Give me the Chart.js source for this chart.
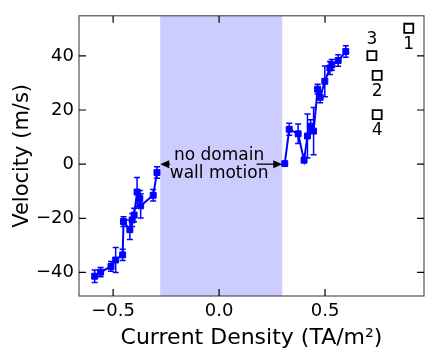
<!DOCTYPE html>
<html>
<head>
<meta charset="utf-8">
<script src="https://cdn.jsdelivr.net/npm/chart.js@4/dist/chart.umd.min.js"></script>
<style>
body { margin: 0; background: #fff; }
#wrap { width: 436px; height: 363px; }
</style>
</head>
<body>
<div id="wrap"><canvas id="myChart" width="436" height="363"></canvas></div>
<script>
// negative current branch
const negJ = [-0.587, -0.559, -0.510, -0.488, -0.455, -0.451, -0.421, -0.410, -0.401, -0.387, -0.374, -0.370, -0.311, -0.293];
const negV = [-41.4, -39.9, -37.8, -35.4, -33.5, -21.2, -24.2, -20.6, -18.8, -10.3, -12.7, -15.4, -11.5, -3.1];
const negErr = [2.3, 1.7, 1.8, 4.6, 2.1, 1.8, 3.6, 2.4, 2.5, 5.4, 3.0, 4.5, 2.1, 2.1];
// positive current branch
const posJ = [0.310, 0.331, 0.373, 0.401, 0.417, 0.432, 0.446, 0.465, 0.477, 0.499, 0.523, 0.532, 0.562, 0.598];
const posV = [0.2, 12.9, 11.2, 1.5, 10.4, 14.0, 12.2, 27.7, 24.7, 30.6, 35.5, 36.7, 38.3, 41.6];
const posErr = [0.5, 2.2, 3.6, 1.0, 8.1, 2.4, 8.7, 1.8, 2.0, 5.7, 2.4, 2.0, 2.1, 2.1];
// open squares
const sqLabels = ['1', '2', '3', '4'];
const sqJ = [0.895, 0.746, 0.721, 0.746];
const sqV = [50.2, 32.8, 40.1, 18.3];
const sqLabelSide = [1, 1, -1, 1]; // 1 = below, -1 = above
// shaded band and its text
const noMotion = [-0.278, 0.298];
const noMotionText = ['no domain', 'wall motion'];
const xTicks = [-0.5, 0.0, 0.5];
const yTicks = [-40, -20, 0, 20, 40];

const FONT = "'DejaVu Sans', sans-serif";
const minus = s => s.replace('-', '\u2212');

const decor = {
    id: 'decor',
    beforeDatasetsDraw(chart) {
        const {ctx, chartArea: a, scales: {x, y}} = chart;
        ctx.save();
        ctx.fillStyle = 'rgba(0,0,255,0.2)';
        const x0 = x.getPixelForValue(noMotion[0]), x1 = x.getPixelForValue(noMotion[1]);
        ctx.fillRect(x0, a.top, x1 - x0, a.bottom - a.top);
        // error bars
        ctx.strokeStyle = '#0000ff';
        ctx.lineWidth = 1.5;
        [[negJ, negV, negErr], [posJ, posV, posErr]].forEach(([js, vs, es]) => {
            js.forEach((j, i) => {
                const px = x.getPixelForValue(j);
                const lo = y.getPixelForValue(vs[i] - es[i]);
                const hi = y.getPixelForValue(vs[i] + es[i]);
                ctx.beginPath();
                ctx.moveTo(px, lo); ctx.lineTo(px, hi);
                ctx.moveTo(px - 3, lo); ctx.lineTo(px + 3, lo);
                ctx.moveTo(px - 3, hi); ctx.lineTo(px + 3, hi);
                ctx.stroke();
            });
        });
        ctx.restore();
    },
    afterDraw(chart) {
        const {ctx, chartArea: a, scales: {x, y}} = chart;
        ctx.save();
        // spines
        ctx.strokeStyle = '#444';
        ctx.lineWidth = 1.1;
        ctx.strokeRect(a.left, a.top, a.right - a.left, a.bottom - a.top);
        // inward ticks on all sides
        ctx.strokeStyle = '#000';
        ctx.lineWidth = 1.2;
        ctx.beginPath();
        xTicks.forEach(v => {
            const px = x.getPixelForValue(v);
            ctx.moveTo(px, a.bottom); ctx.lineTo(px, a.bottom - 7);
            ctx.moveTo(px, a.top); ctx.lineTo(px, a.top + 7);
        });
        yTicks.forEach(v => {
            const py = y.getPixelForValue(v);
            ctx.moveTo(a.left, py); ctx.lineTo(a.left + 7, py);
            ctx.moveTo(a.right, py); ctx.lineTo(a.right - 7, py);
        });
        ctx.stroke();

        // arrows + text
        const cx = x.getPixelForValue(0), cy = y.getPixelForValue(0);
        const arrow = (fromX, toX) => {
            const dir = Math.sign(toX - fromX);
            ctx.beginPath();
            ctx.moveTo(fromX, cy); ctx.lineTo(toX - dir * 8, cy);
            ctx.stroke();
            ctx.beginPath();
            ctx.moveTo(toX, cy);
            ctx.lineTo(toX - dir * 9, cy - 4);
            ctx.lineTo(toX - dir * 9, cy + 4);
            ctx.closePath();
            ctx.fill();
        };
        ctx.fillStyle = '#000';
        ctx.lineWidth = 1.3;
        arrow(x.getPixelForValue(-0.231), x.getPixelForValue(noMotion[0]));
        arrow(x.getPixelForValue(0.177), x.getPixelForValue(noMotion[1]));
        ctx.font = '17px ' + FONT;
        ctx.textAlign = 'center';
        ctx.textBaseline = 'alphabetic';
        ctx.fillText(noMotionText[0], cx, cy - 4.5);
        ctx.fillText(noMotionText[1], cx, cy + 14);

        // square labels
        ctx.textBaseline = 'middle';
        sqLabels.forEach((t, i) => {
            ctx.fillText(t, x.getPixelForValue(sqJ[i]), y.getPixelForValue(sqV[i]) + sqLabelSide[i] * 16);
        });
        ctx.restore();
    }
};

const ctx = document.getElementById('myChart');
new Chart(ctx, {
    type: 'scatter',
    data: {
        datasets: [
            {
                data: negJ.map((j, i) => ({x: j, y: negV[i]})),
                showLine: true,
                borderColor: '#0000ff',
                borderWidth: 2,
                backgroundColor: '#0000ff',
                pointStyle: 'rect',
                pointRadius: 4.2,
                pointBorderWidth: 1
            },
            {
                data: posJ.map((j, i) => ({x: j, y: posV[i]})),
                showLine: true,
                borderColor: '#0000ff',
                borderWidth: 2,
                backgroundColor: '#0000ff',
                pointStyle: 'rect',
                pointRadius: 4.2,
                pointBorderWidth: 1
            },
            {
                data: sqJ.map((j, i) => ({x: j, y: sqV[i]})),
                showLine: false,
                borderColor: '#000',
                backgroundColor: 'rgba(0,0,0,0)',
                pointStyle: 'rect',
                pointRadius: 6.4,
                pointBorderWidth: 1.8
            }
        ]
    },
    options: {
        responsive: false,
        animation: false,
        layout: {padding: {top: 10, right: 12, left: 0, bottom: 0}},
        plugins: {legend: {display: false}, tooltip: {enabled: false}},
        scales: {
            x: {
                type: 'linear',
                min: -0.661,
                max: 0.967,
                afterBuildTicks: s => { s.ticks = xTicks.map(v => ({value: v})); },
                afterFit: s => { s.height = 67; },
                grid: {display: false, drawTicks: false},
                border: {display: false},
                ticks: {
                    color: '#000',
                    font: {family: FONT, size: 18},
                    padding: 5,
                    maxRotation: 0,
                    callback: v => minus(Number(v).toFixed(1))
                },
                title: {
                    display: true,
                    text: 'Current Density (TA/m\u00b2)',
                    color: '#000',
                    font: {family: FONT, size: 22},
                    padding: {top: 0, bottom: 12}
                }
            },
            y: {
                type: 'linear',
                min: -48.7,
                max: 54.8,
                afterBuildTicks: s => { s.ticks = yTicks.map(v => ({value: v})); },
                afterFit: s => { s.width = 79; },
                grid: {display: false, drawTicks: false},
                border: {display: false},
                ticks: {
                    color: '#000',
                    font: {family: FONT, size: 18},
                    padding: 5,
                    callback: v => minus(String(v))
                },
                title: {
                    display: true,
                    text: 'Velocity (m/s)',
                    color: '#000',
                    font: {family: FONT, size: 21},
                    padding: {top: 10, bottom: 0}
                }
            }
        }
    },
    plugins: [decor]
});
</script>
</body>
</html>
